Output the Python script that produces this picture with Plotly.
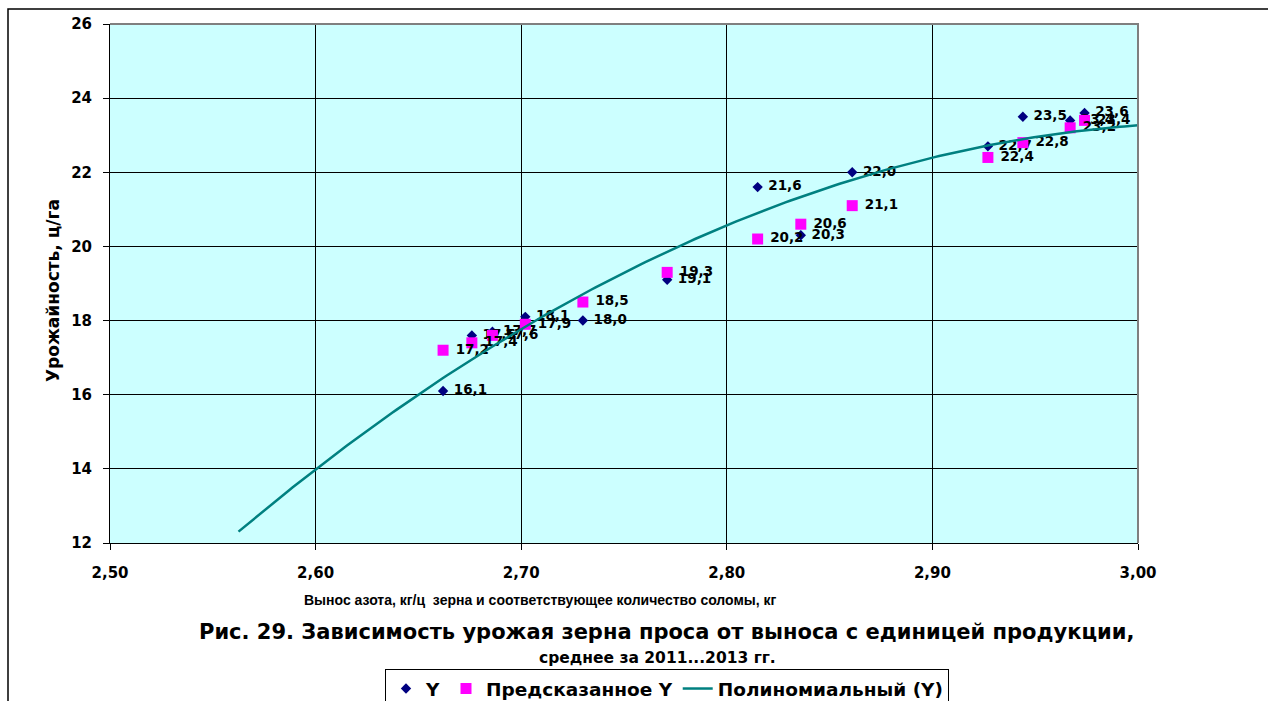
import numpy as np
import plotly.graph_objects as go

# Nitrogen removal per centner of grain (+ straw), kg, and millet yield, c/ha
x_actual = [2.662, 2.676, 2.686, 2.702, 2.730, 2.771, 2.815, 2.836, 2.861,
            2.927, 2.944, 2.967, 2.974]
y_actual = [16.1, 17.6, 17.7, 18.1, 18.0, 19.1, 21.6, 20.3, 22.0,
            22.7, 23.5, 23.4, 23.6]

x_pred = [2.662, 2.676, 2.686, 2.702, 2.730, 2.771, 2.815, 2.836, 2.861,
          2.927, 2.944, 2.967, 2.974]
y_pred = [17.2, 17.4, 17.6, 17.9, 18.5, 19.3, 20.2, 20.6, 21.1,
          22.4, 22.8, 23.2, 23.4]

# points lying on the polynomial trend line
trend_x = [2.5625, 2.600, 2.6508, 2.700, 2.727, 2.8307, 2.9037, 3.000]
trend_y = [12.30, 14.00, 15.99, 17.88, 18.55, 21.21, 22.47, 23.26]

x_ticks = [2.50, 2.60, 2.70, 2.80, 2.90, 3.00]
y_ticks = [12, 14, 16, 18, 20, 22, 24, 26]

coef = np.polyfit(trend_x, trend_y, 3)
x_curve = np.linspace(min(trend_x), max(trend_x), 200)
y_curve = np.polyval(coef, x_curve)

FONT = "DejaVu Sans"
ARIAL = "Liberation Sans, Arial"
W, H = 1268, 701
L, R, T, B = 110, 1138, 24, 543  # plot area in pixels


def px(xp):
    return (xp - L) / (R - L)


def py(yp):
    return (B - yp) / (B - T)


fig = go.Figure()

label_font = dict(family=FONT, size=13.5, color="black", weight="bold")

fig.add_trace(go.Scatter(
    x=x_actual, y=y_actual, mode="markers+text", name="Y",
    marker=dict(symbol="diamond", size=8, color="#000080"),
    texttemplate="\u00a0%{y:.1f}", textposition="middle right",
    textfont=label_font, cliponaxis=False,
))
fig.add_trace(go.Scatter(
    x=x_pred, y=y_pred, mode="markers+text", name="Предсказанное Y",
    marker=dict(symbol="square", size=11, color="#FF00FF"),
    texttemplate="\u00a0%{y:.1f}", textposition="middle right",
    textfont=label_font, cliponaxis=False,
))
fig.add_trace(go.Scatter(
    x=x_curve, y=y_curve, mode="lines", name="Полиномиальный (Y)",
    line=dict(color="#008080", width=2.5),
))

tick_font = dict(family=FONT, size=15, color="black", weight="bold")

fig.update_xaxes(
    range=[2.5, 3.0], tickvals=x_ticks, tickformat=".2f",
    showgrid=True, gridcolor="black", gridwidth=1,
    showline=True, linecolor="black", linewidth=1,
    ticks="outside", ticklen=6, tickcolor="black",
    tickfont=tick_font, ticklabelstandoff=10, zeroline=False,
)
fig.update_yaxes(
    range=[12, 26], tickvals=y_ticks,
    showgrid=True, gridcolor="black", gridwidth=1,
    showline=True, linecolor="black", linewidth=1,
    ticks="outside", ticklen=6, tickcolor="black",
    tickfont=tick_font, ticklabelstandoff=8, zeroline=False,
)

annotations = [
    dict(text="Урожайность, ц/га", x=px(53), y=py(291), textangle=-90,
         font=dict(family=FONT, size=17, color="black", weight="bold")),
    dict(text="Вынос азота, кг/ц \u00a0зерна и соответствующее количество соломы, кг",
         x=px(540), y=py(600),
         font=dict(family=ARIAL, size=14, color="black", weight="bold")),
    dict(text="Рис. 29. Зависимость урожая зерна проса от выноса с единицей продукции,",
         x=px(666), y=py(632),
         font=dict(family=FONT, size=21, color="black", weight="bold")),
    dict(text="среднее за 2011...2013 гг.",
         x=px(657), y=py(658),
         font=dict(family=FONT, size=15.5, color="black", weight="bold")),
]
for a in annotations:
    a.update(xref="paper", yref="paper", showarrow=False,
             xanchor="center", yanchor="middle")

shapes = [
    # outer chart frame (left and top edges)
    dict(type="path", xref="paper", yref="paper",
         path=f"M {px(8)} {py(705)} L {px(8)} {py(9)} L {px(1272)} {py(9)}",
         line=dict(color="black", width=1.5)),
    # plot area border, top and right
    dict(type="path", xref="paper", yref="paper",
         path="M 0 1 L 1 1 L 1 0",
         line=dict(color="#7f7f7f", width=2)),
]

fig.update_layout(
    width=W, height=H,
    margin=dict(l=L, r=W - R, t=T, b=H - B),
    paper_bgcolor="white", plot_bgcolor="#CCFFFF",
    separators=", ",
    showlegend=True,
    legend=dict(
        orientation="h", xref="container", yref="container",
        x=385 / W, y=(H - 669) / H, xanchor="left", yanchor="top",
        bgcolor="white", bordercolor="black", borderwidth=1,
        font=dict(family=FONT, size=18.5, color="black", weight="bold"),
        itemwidth=30,
    ),
    annotations=annotations,
    shapes=shapes,
)

fig.write_html("out.html")
